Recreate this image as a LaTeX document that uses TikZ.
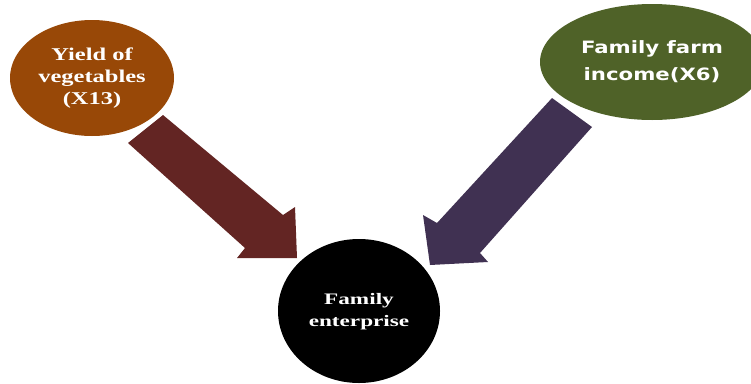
\documentclass[tikz,border=0pt]{standalone}
\usepackage{fontspec}
\setmainfont{Liberation Serif}
\newfontfamily\comicfont{DejaVu Sans}
\usetikzlibrary{shapes.geometric}
\definecolor{brownorange}{HTML}{984807}
\definecolor{olivegreen}{HTML}{4F6228}
\definecolor{darkred}{HTML}{632523}
\definecolor{darkpurple}{HTML}{403152}
\newcommand{\widetext}[2]{\scalebox{#1}[1]{\begin{tabular}{@{}c@{}}#2\end{tabular}}}
\begin{document}
\begin{tikzpicture}[x=1pt,y=-1pt,
  bubble/.style={ellipse, inner sep=0pt, text=white, align=center}]
\useasboundingbox (0,0) rectangle (751,383);
\clip (0,0) rectangle (751,383);
% arrows
\fill[darkred] (128,143) -- (163,115) -- (283,215) -- (295,207) -- (297,258) -- (237,258) -- (245,248) -- cycle;
\fill[darkpurple] (552,98) -- (592,127) -- (480,253) -- (488,262) -- (430,265) -- (423,215) -- (437,223) -- cycle;
% nodes
\node[bubble, fill=brownorange, minimum width=164pt, minimum height=116pt,
  font=\fontsize{18}{22}\selectfont\bfseries] (yield) at (92,78)
  {\widetext{1.36}{Yield of\\vegetables\\(X13)}};
\node[bubble, fill=olivegreen, minimum width=224pt, minimum height=116pt,
  font=\comicfont\fontsize{17}{27}\selectfont\bfseries] (income) at (652,62)
  {\widetext{1.25}{Family farm\\income(X6)}};
\node[bubble, fill=black, minimum width=162pt, minimum height=144pt,
  font=\fontsize{16}{22}\selectfont\bfseries] (fam) at (359,311)
  {\widetext{1.45}{Family\\enterprise}};
\end{tikzpicture}
\end{document}
